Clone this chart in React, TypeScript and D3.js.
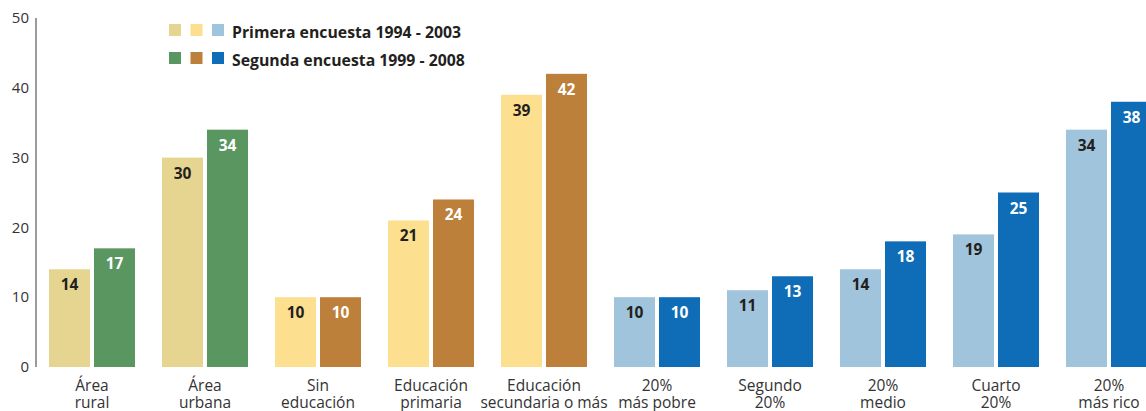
import React from "react";
import * as d3 from "d3";

const categories: string[][] = [
  ["Área", "rural"],
  ["Área", "urbana"],
  ["Sin", "educación"],
  ["Educación", "primaria"],
  ["Educación", "secundaria o más"],
  ["20%", "más pobre"],
  ["Segundo", "20%"],
  ["20%", "medio"],
  ["Cuarto", "20%"],
  ["20%", "más rico"],
];
const primera = [14, 30, 10, 21, 39, 10, 11, 14, 19, 34];
const segunda = [17, 34, 10, 24, 42, 10, 13, 18, 25, 38];
const groupOf = [0, 0, 1, 1, 1, 2, 2, 2, 2, 2];
const firstColors = ["#E6D591", "#FDE08F", "#A0C4DB"];
const secondColors = ["#5A9660", "#BC803A", "#0F6CB6"];
const yTicks = [0, 10, 20, 30, 40, 50];
const legendLabels = ["Primera encuesta 1994 - 2003", "Segunda encuesta 1999 - 2008"];

const FONT = "'Open Sans', 'Noto Sans', sans-serif";

export default function App() {
  const W = 1146, H = 411;
  const y = d3.scaleLinear().domain([0, 50]).range([367, 18]);
  const x0 = d3.scaleLinear().domain([0, 1]).range([49, 162]);
  const bw = 41, gap = 4;
  return (
    <svg width={W} height={H} style={{ position: "absolute", left: 0, top: 0, background: "#fff" }} fontFamily={FONT}>
      <line x1={36} x2={36} y1={y(50)} y2={y(0)} stroke="#7a7a7a" strokeWidth={1.5} />
      {yTicks.map((t) => (
        <text key={t} x={29} y={y(t)} dy="0.35em" textAnchor="end" fontSize={15} fill="#333">
          {t}
        </text>
      ))}
      {categories.map((c, i) => {
        const xs = x0(i);
        const g = groupOf[i];
        const cx = xs + bw + gap / 2;
        return (
          <g key={i}>
            <rect x={xs} y={y(primera[i])} width={bw} height={y(0) - y(primera[i])} fill={firstColors[g]} />
            <rect x={xs + bw + gap} y={y(segunda[i])} width={bw} height={y(0) - y(segunda[i])} fill={secondColors[g]} />
            <text x={xs + bw / 2} y={y(primera[i]) + 21} textAnchor="middle" fontSize={15.5} fontWeight="bold" fill="#231f20">
              {primera[i]}
            </text>
            <text x={xs + bw + gap + bw / 2} y={y(segunda[i]) + 21} textAnchor="middle" fontSize={15.5} fontWeight="bold" fill="#fff">
              {segunda[i]}
            </text>
            <text textAnchor="middle" fontSize={15.5} fill="#333">
              <tspan x={cx} y={390.5}>{c[0]}</tspan>
              <tspan x={cx} y={407.5}>{c[1]}</tspan>
            </text>
          </g>
        );
      })}
      {legendLabels.map((l, r) => (
        <g key={l}>
          {[0, 1, 2].map((k) => (
            <rect key={k} x={169 + k * 21.5} y={24 + r * 28} width={12} height={12}
              fill={r === 0 ? firstColors[k] : secondColors[k]} />
          ))}
          <text x={232} y={36 + r * 28} dy="0.1em" fontSize={15.8} fontWeight="bold" fill="#231f20">{l}</text>
        </g>
      ))}
    </svg>
  );
}
